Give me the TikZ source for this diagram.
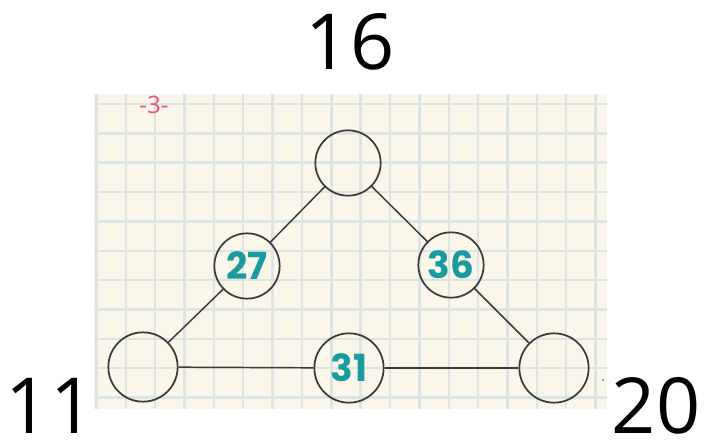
\documentclass[tikz,border=0pt]{standalone}
\usepackage{fontspec}
\setmainfont{Open Sans}
\newfontfamily\roundfont{Poppins}
\usetikzlibrary{positioning}
\definecolor{paper}{HTML}{FBF6EA}
\definecolor{gridline}{HTML}{DCE4E4}
\definecolor{inkline}{HTML}{3A3A3A}
\definecolor{tealnum}{HTML}{1A9C9E}
\definecolor{pagepink}{HTML}{E8547C}
\begin{document}
\begin{tikzpicture}[x=0.75pt, y=-0.75pt,
        spot/.style={circle, draw=inkline, line width=1.3pt, minimum size=49pt, inner sep=0pt, font=\roundfont\bfseries\fontsize{28}{28}\selectfont, text=tealnum},
        link/.style={draw=inkline, line width=1.1pt},
        corner/.style={inner sep=0pt, font=\fontsize{58}{58}\selectfont}
    ]
        \useasboundingbox (0,0) rectangle (707,445);

        % Grid paper
        \fill[paper] (94,94) rectangle (607,409);
        \begin{scope}
            \clip (94,94) rectangle (607,409);
            \foreach \i in {0,...,17}
                \draw[gridline, line width=1.8pt] (96.5+29.35*\i,94) -- (96.5+29.35*\i,409);
            \foreach \j in {0,...,10}
                \draw[gridline, line width=1.8pt] (94,104+29.35*\j) -- (607,104+29.35*\j);
        \end{scope}
        \node[text=pagepink, inner sep=0pt, font=\fontsize{18}{18}\selectfont] (page) at (154,105) {-3-};
        \fill[gray] (603,380) circle (1.2);

        % Circles
        \node[spot] (top) at (348,163) {};
        \node[spot] (left) at (247,266) {27};
        \node[spot] (right) at (451,265) {36};
        \node[spot, minimum size=52pt] (bl) at (143,367) {};
        \node[spot, minimum size=52pt] (bottom) at (349,368) {31};
        \node[spot, minimum size=52pt] (br) at (554,368) {};

        % Sides
        \draw[link] (top) -- (left);
        \draw[link] (left) -- (bl);
        \draw[link] (top) -- (right);
        \draw[link] (right) -- (br);
        \draw[link] (bl) -- (bottom);
        \draw[link] (bottom) -- (br);

        % Corner numbers
        \node[corner] (ntop) at (350,42) {16};
        \node[corner] (nleft) at (50,406) {11};
        \node[corner] (nright) at (656,406) {20};
    \end{tikzpicture}
\end{document}
